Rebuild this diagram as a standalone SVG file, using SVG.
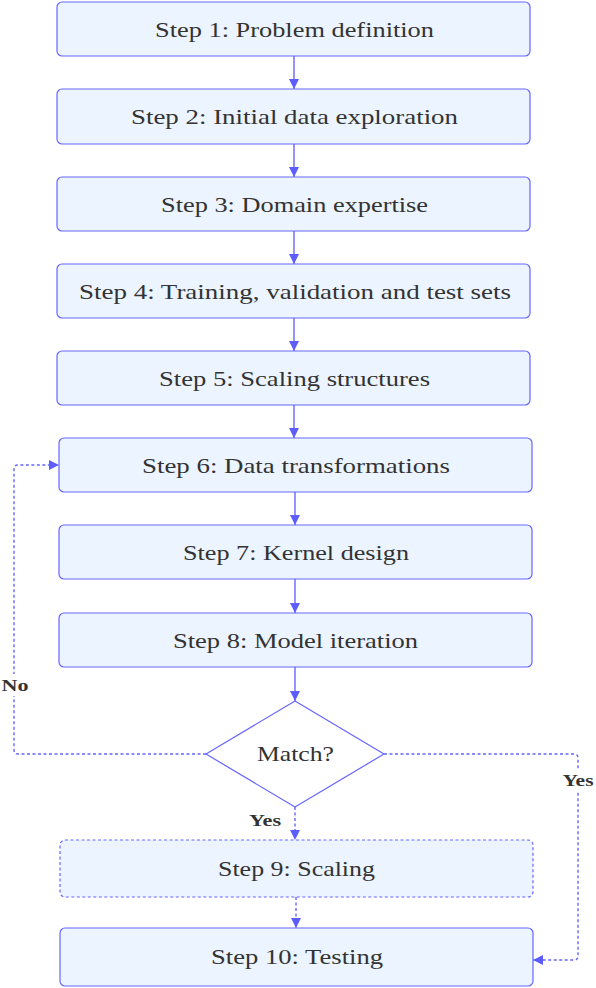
<svg xmlns="http://www.w3.org/2000/svg" width="596" height="988" viewBox="0 0 596 988">
<style>
.box{fill:#ecf4ff;stroke:#6666ff;stroke-width:1.2}
.dash{stroke-dasharray:3 2.5}
.e{fill:none;stroke:#6666ff;stroke-width:1.4}
</style>
<defs>
<marker id="ah" viewBox="0 0 10 10" refX="10" refY="5" markerWidth="10" markerHeight="10" markerUnits="userSpaceOnUse" orient="auto">
<path d="M0,0 L10,5 L0,10 z" fill="#5c5cff"/>
</marker>
</defs>
<rect width="596" height="988" fill="#fff"/>
<g id="edges">
<path class="e" d="M294,56 V89" marker-end="url(#ah)"/>
<path class="e" d="M294,144 V177" marker-end="url(#ah)"/>
<path class="e" d="M294,231 V264" marker-end="url(#ah)"/>
<path class="e" d="M294,318 V351" marker-end="url(#ah)"/>
<path class="e" d="M294,405 V438" marker-end="url(#ah)"/>
<path class="e" d="M295,492 V525" marker-end="url(#ah)"/>
<path class="e" d="M295,579 V613" marker-end="url(#ah)"/>
<path class="e" d="M295,667 V701" marker-end="url(#ah)"/>
<path class="e dash" d="M295,807 V840" marker-end="url(#ah)"/>
<path class="e dash" d="M296,897 V928" marker-end="url(#ah)"/>
<path class="e dash" d="M206,754 H18 Q14,754 14,750 V469 Q14,465 18,465 H59" marker-end="url(#ah)"/>
<path class="e dash" d="M384,754 H574 Q578,754 578,758 V956 Q578,960 574,960 H533" marker-end="url(#ah)"/>
<rect x="0" y="674" width="30" height="22" fill="#fff"/>
<rect x="560" y="769" width="36" height="22" fill="#fff"/>
<g font-family="'Liberation Serif','DejaVu Serif','Times New Roman',serif" font-size="16" font-weight="bold" fill="#333" text-anchor="middle">
<text x="15" y="691" textLength="27" lengthAdjust="spacingAndGlyphs">No</text>
<text x="578" y="786" textLength="31" lengthAdjust="spacingAndGlyphs">Yes</text>
<text x="265" y="826" textLength="32" lengthAdjust="spacingAndGlyphs">Yes</text>
</g>
</g>
<g font-family="'Liberation Serif','DejaVu Serif','Times New Roman',serif" font-size="22" fill="#333" text-anchor="middle">
<g id="n1"><rect class="box" x="57" y="2" width="473" height="54" rx="5"/><text x="294.5" y="37" textLength="279" lengthAdjust="spacingAndGlyphs">Step 1: Problem definition</text></g>
<g id="n2"><rect class="box" x="57" y="89" width="473" height="55" rx="5"/><text x="294.5" y="124" textLength="327" lengthAdjust="spacingAndGlyphs">Step 2: Initial data exploration</text></g>
<g id="n3"><rect class="box" x="57" y="177" width="473" height="54" rx="5"/><text x="294.5" y="212" textLength="267" lengthAdjust="spacingAndGlyphs">Step 3: Domain expertise</text></g>
<g id="n4"><rect class="box" x="57" y="264" width="473" height="54" rx="5"/><text x="295" y="299" textLength="432" lengthAdjust="spacingAndGlyphs">Step 4: Training, validation and test sets</text></g>
<g id="n5"><rect class="box" x="57" y="351" width="473" height="54" rx="5"/><text x="294.5" y="386" textLength="271" lengthAdjust="spacingAndGlyphs">Step 5: Scaling structures</text></g>
<g id="n6"><rect class="box" x="59" y="438" width="473" height="54" rx="5"/><text x="296" y="473" textLength="308" lengthAdjust="spacingAndGlyphs">Step 6: Data transformations</text></g>
<g id="n7"><rect class="box" x="59" y="525" width="473" height="54" rx="5"/><text x="296" y="560" textLength="226" lengthAdjust="spacingAndGlyphs">Step 7: Kernel design</text></g>
<g id="n8"><rect class="box" x="59" y="613" width="473" height="54" rx="5"/><text x="295.5" y="648" textLength="245" lengthAdjust="spacingAndGlyphs">Step 8: Model iteration</text></g>
<g id="d"><path d="M295,701 L384,754 L295,807 L206,754 Z" fill="#fff" stroke="#6666ff" stroke-width="1.2" stroke-linejoin="round"/><text x="295.5" y="761" textLength="77" lengthAdjust="spacingAndGlyphs">Match?</text></g>
<g id="n9"><rect class="box dash" x="60" y="840" width="473" height="57" rx="5"/><text x="296.5" y="876" textLength="157" lengthAdjust="spacingAndGlyphs">Step 9: Scaling</text></g>
<g id="n10"><rect class="box" x="60" y="928" width="473" height="58" rx="5"/><text x="297" y="964" textLength="172" lengthAdjust="spacingAndGlyphs">Step 10: Testing</text></g>
</g>
</svg>
